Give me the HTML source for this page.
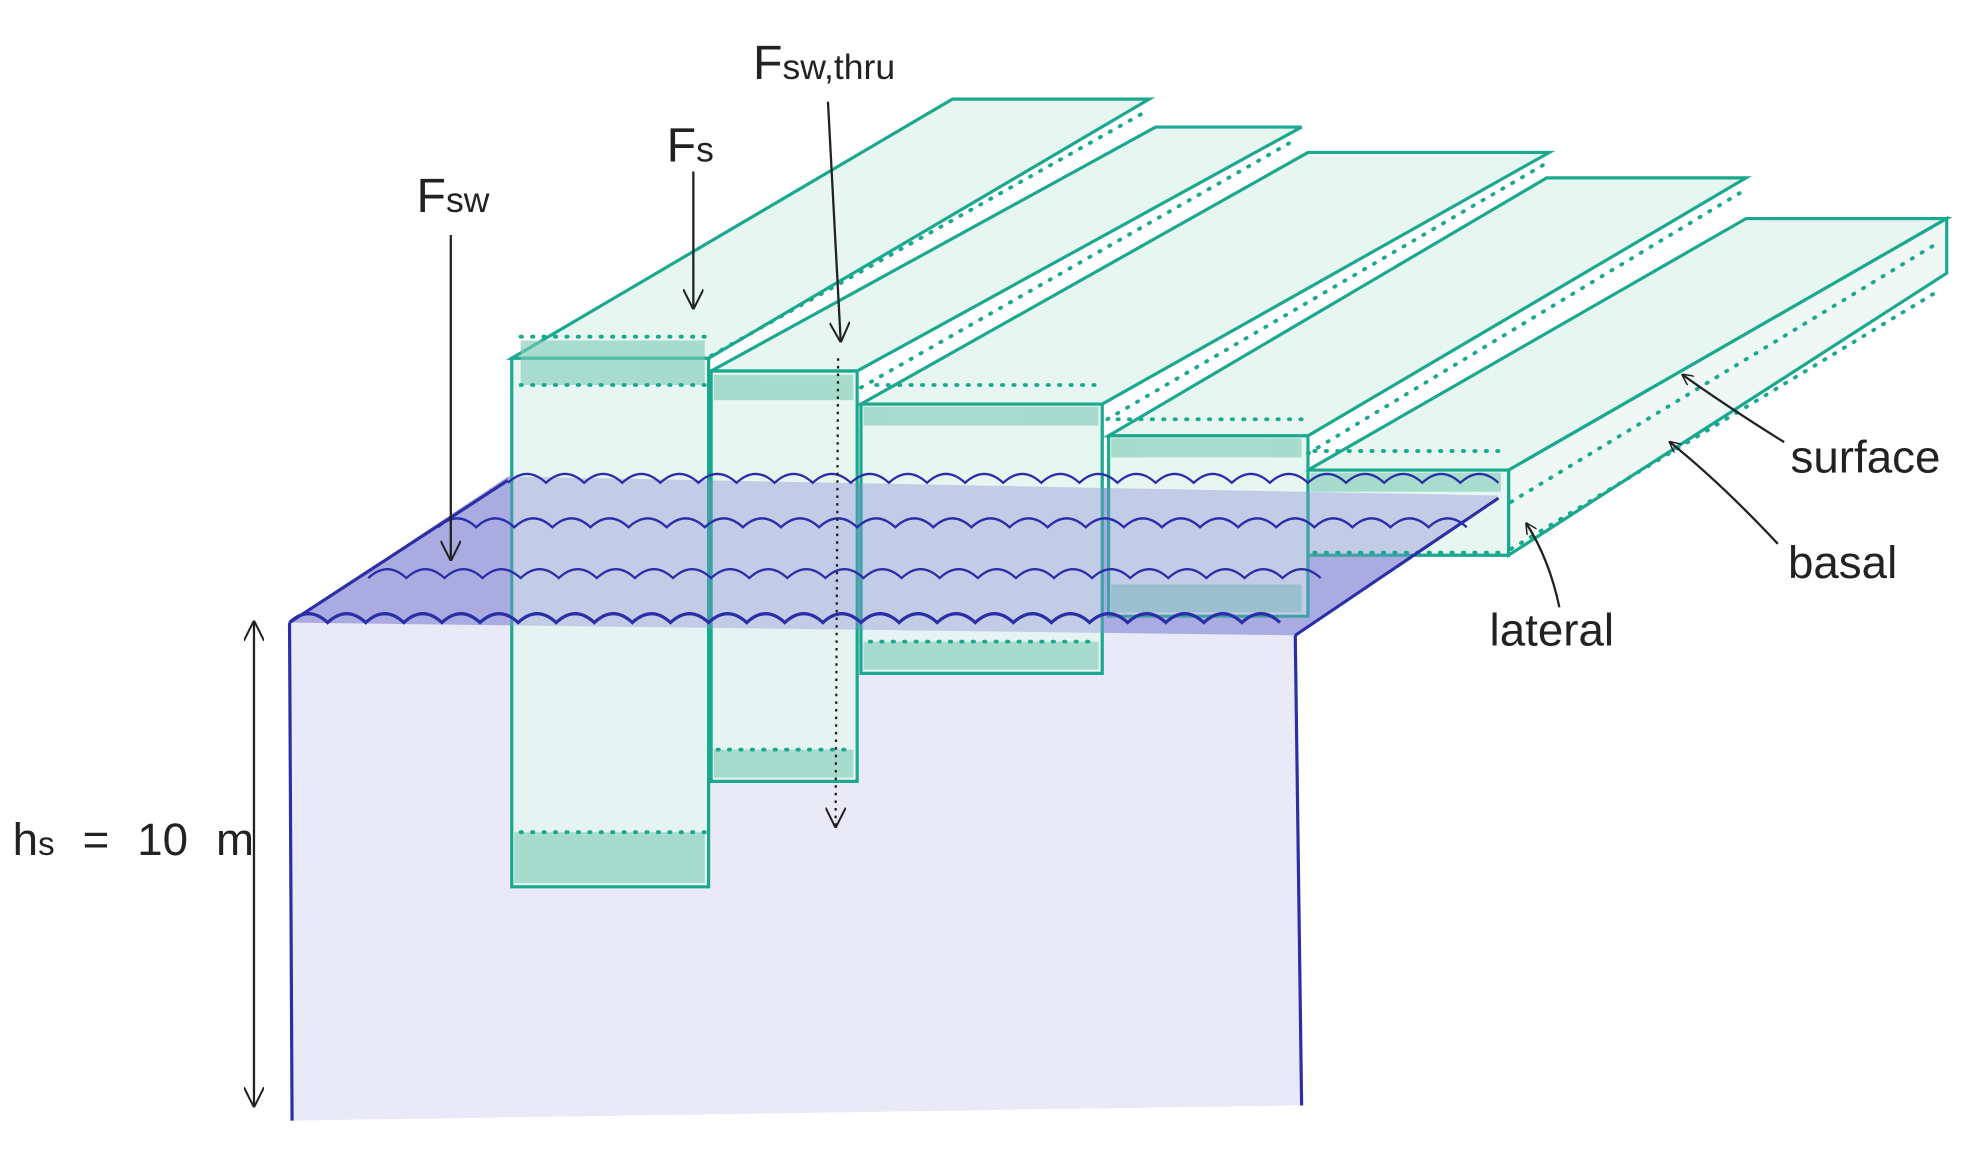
<!DOCTYPE html>
<html><head><meta charset="utf-8"><style>
html,body{margin:0;padding:0;background:#fff;width:1981px;height:1160px;overflow:hidden}
svg{display:block}
text{font-family:"Liberation Sans",sans-serif;fill:#222}
</style></head><body>
<svg width="1981" height="1160" viewBox="0 0 1560 913" preserveAspectRatio="none" xmlns="http://www.w3.org/2000/svg">
<defs>
<marker id="ah" viewBox="0 0 10 10" refX="9" refY="5" markerWidth="9" markerHeight="9" orient="auto-start-reverse" markerUnits="userSpaceOnUse"><path d="M0,0 L10,5 L0,10" fill="none" stroke="#222" stroke-width="1.3"/></marker>
<marker id="ah2" viewBox="0 0 10 10" refX="9" refY="5" markerWidth="16" markerHeight="16" orient="auto-start-reverse" markerUnits="userSpaceOnUse"><path d="M0,0 L10,5 L0,10" fill="none" stroke="#222" stroke-width="1"/></marker>
</defs>
<polygon points="228,490 1020,500 1025,870 230,882" fill="#e9e9f7"/>
<polygon points="228,490 400,375 1180,390 1020,500" fill="#b9bbe6"/>
<g stroke="#1aa88f" stroke-width="2.5" fill="#e4f5f0" fill-opacity="0.85">
 <polygon points="1030,370 1188,370 1533,172 1375,172"/>
 <polygon points="1188,370 1533,172 1533,215 1188,437" fill="#edf7f4"/>
 <polygon points="1030,370 1188,370 1188,437 1030,437"/>
 <polygon points="873,343 1030,343 1375,140 1218,140"/>
 <polygon points="873,343 1030,343 1030,485 873,485"/>
 <polygon points="678,318 868,318 1220,120 1030,120"/>
 <polygon points="678,318 868,318 868,530 678,530"/>
 <polygon points="560,292 675,292 1025,100 910,100"/>
 <polygon points="560,292 675,292 675,615 560,615"/>
 <polygon points="403,282 558,282 905,78 750,78"/>
 <polygon points="403,282 558,282 558,698 403,698"/>
</g>
<g fill="#7dcbb4" opacity="0.6">
 <rect x="405" y="655" width="150" height="40"/>
 <rect x="562" y="590" width="110" height="22"/>
 <rect x="680" y="505" width="185" height="22"/>
 <rect x="875" y="460" width="150" height="22"/>
 <rect x="410" y="268" width="145" height="35"/>
 <rect x="562" y="295" width="110" height="20"/>
 <rect x="680" y="320" width="185" height="15"/>
 <rect x="875" y="345" width="150" height="15"/>
 <rect x="1032" y="372" width="150" height="15"/>
</g>
<polygon points="228,490 400,375 1180,390 1020,500" fill="#8f92d8" opacity="0.35"/>
<g stroke="#1aa88f" stroke-width="3" stroke-dasharray="1 8" stroke-linecap="round" fill="none">
 <line x1="410" y1="303" x2="555" y2="303"/><line x1="410" y1="265" x2="555" y2="265"/>
 <line x1="410" y1="655" x2="555" y2="655"/>
 <line x1="565" y1="590" x2="670" y2="590"/>
 <line x1="685" y1="505" x2="865" y2="505"/>
 <line x1="690" y1="303" x2="865" y2="303"/>
 <line x1="880" y1="330" x2="1025" y2="330"/>
 <line x1="1035" y1="355" x2="1185" y2="355"/>
 <line x1="1035" y1="435" x2="1185" y2="435"/>
 <line x1="560" y1="280" x2="902" y2="88"/><line x1="678" y1="305" x2="1020" y2="110"/>
 <line x1="872" y1="330" x2="1215" y2="130"/><line x1="1030" y1="357" x2="1370" y2="152"/>
 <line x1="1190" y1="395" x2="1528" y2="190"/><line x1="1190" y1="432" x2="1528" y2="228"/>
</g>
<g stroke="#2a2fa8" stroke-width="2.5" fill="none">
 <line x1="228" y1="490" x2="230" y2="882"/>
 <line x1="1020" y1="500" x2="1025" y2="870"/>
 <line x1="228" y1="490" x2="400" y2="378"/>
 <line x1="1020" y1="500" x2="1180" y2="392"/>
 <path d="M228,490 q15,-14 30,0 q15,-14 30,0 q15,-14 30,0 q15,-14 30,0 q15,-14 30,0 q15,-14 30,0 q15,-14 30,0 q15,-14 30,0 q15,-14 30,0 q15,-14 30,0 q15,-14 30,0 q15,-14 30,0 q15,-14 30,0 q15,-14 30,0 q15,-14 30,0 q15,-14 30,0 q15,-14 30,0 q15,-14 30,0 q15,-14 30,0 q15,-14 30,0 q15,-14 30,0 q15,-14 30,0 q15,-14 30,0 q15,-14 30,0 q15,-14 30,0 q15,-14 30,0" />
 <path d="M290,455 q15,-14 30,0 q15,-14 30,0 q15,-14 30,0 q15,-14 30,0 q15,-14 30,0 q15,-14 30,0 q15,-14 30,0 q15,-14 30,0 q15,-14 30,0 q15,-14 30,0 q15,-14 30,0 q15,-14 30,0 q15,-14 30,0 q15,-14 30,0 q15,-14 30,0 q15,-14 30,0 q15,-14 30,0 q15,-14 30,0 q15,-14 30,0 q15,-14 30,0 q15,-14 30,0 q15,-14 30,0 q15,-14 30,0 q15,-14 30,0 q15,-14 30,0" stroke-width="1.8"/>
 <path d="M345,415 q15,-14 30,0 q15,-14 30,0 q15,-14 30,0 q15,-14 30,0 q15,-14 30,0 q15,-14 30,0 q15,-14 30,0 q15,-14 30,0 q15,-14 30,0 q15,-14 30,0 q15,-14 30,0 q15,-14 30,0 q15,-14 30,0 q15,-14 30,0 q15,-14 30,0 q15,-14 30,0 q15,-14 30,0 q15,-14 30,0 q15,-14 30,0 q15,-14 30,0 q15,-14 30,0 q15,-14 30,0 q15,-14 30,0 q15,-14 30,0 q15,-14 30,0 q15,-14 30,0 q15,-14 30,0" stroke-width="1.8"/>
 <path d="M400,380 q15,-14 30,0 q15,-14 30,0 q15,-14 30,0 q15,-14 30,0 q15,-14 30,0 q15,-14 30,0 q15,-14 30,0 q15,-14 30,0 q15,-14 30,0 q15,-14 30,0 q15,-14 30,0 q15,-14 30,0 q15,-14 30,0 q15,-14 30,0 q15,-14 30,0 q15,-14 30,0 q15,-14 30,0 q15,-14 30,0 q15,-14 30,0 q15,-14 30,0 q15,-14 30,0 q15,-14 30,0 q15,-14 30,0 q15,-14 30,0 q15,-14 30,0 q15,-14 30,0" stroke-width="1.8"/>
</g>
<g stroke="#222" stroke-width="1.8" fill="none">
 <line x1="355" y1="185" x2="355" y2="440" marker-end="url(#ah2)"/>
 <line x1="546" y1="135" x2="546" y2="242" marker-end="url(#ah2)"/>
 <line x1="652" y1="80" x2="662" y2="268" marker-end="url(#ah2)"/>
 <line x1="660" y1="282" x2="658" y2="650" stroke-dasharray="2 4" marker-end="url(#ah2)"/>
 <line x1="200" y1="490" x2="200" y2="870" marker-start="url(#ah2)" marker-end="url(#ah2)"/>
 <path d="M1405,348 Q1360,320 1325,295" marker-end="url(#ah)"/>
 <path d="M1400,428 Q1355,380 1315,348" marker-end="url(#ah)"/>
 <path d="M1228,478 Q1220,440 1202,412" marker-end="url(#ah)"/>
</g>
<text x="328" y="167" font-size="38">F<tspan font-size="28">sw</tspan></text>
<text x="525" y="127" font-size="38">F<tspan font-size="28">s</tspan></text>
<text x="593" y="62" font-size="38">F<tspan font-size="28">sw,thru</tspan></text>
<text x="10" y="673" font-size="36" word-spacing="12">h<tspan font-size="26">s</tspan> = 10 m</text>
<text x="1410" y="372" font-size="36">surface</text>
<text x="1408" y="455" font-size="36">basal</text>
<text x="1173" y="508" font-size="36">lateral</text>
</svg>
</body></html>
